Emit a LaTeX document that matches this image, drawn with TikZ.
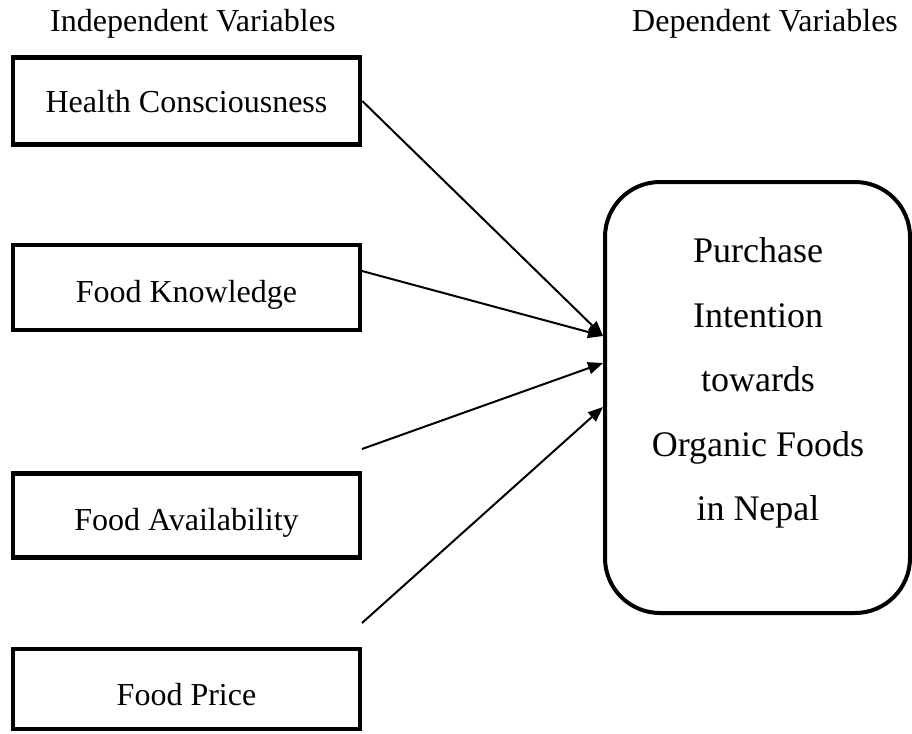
\documentclass[tikz,border=0pt]{standalone}
\usepackage{fontspec}
\setmainfont{Liberation Serif}
\usetikzlibrary{arrows.meta}
\begin{document}
\begin{tikzpicture}[x=1pt,y=-1pt,
  ibox/.style={draw=black, line width=4.5pt, rectangle, inner sep=0pt},
  lbl/.style={font=\fontsize{32}{38}\selectfont, inner sep=0pt, anchor=base},
  hdr/.style={font=\fontsize{32}{38}\selectfont, inner sep=0pt, anchor=base west},
  dbox/.style={draw=black, line width=4pt, rounded corners=55pt, inner sep=0pt},
  arr/.style={line width=2pt, -{Triangle[length=15pt,width=12pt]}}
]
\useasboundingbox (0,0) rectangle (912,733);
% headers
\node[hdr] (hind) at (50,32) {Independent Variables};
\node[hdr] (hdep) at (632,32) {Dependent Variables};
% independent boxes
\node[ibox, minimum width=347pt, minimum height=87pt] (hc) at (186.5,101) {};
\node[lbl] (hct) at (186.5,113) {Health Consciousness};
\node[ibox, minimum width=347pt, minimum height=85pt] (fk) at (186.5,287.5) {};
\node[lbl] (fkt) at (186.5,302) {Food Knowledge};
\node[ibox, minimum width=347pt, minimum height=84pt] (fa) at (186.5,515.5) {};
\node[lbl] (fat) at (186.5,530) {Food Availability};
\node[ibox, minimum width=347pt, minimum height=80pt] (fp) at (186.5,689) {};
\node[lbl] (fpt) at (186.5,705) {Food Price};
% dependent box
\node[dbox, minimum width=305pt, minimum height=431pt] (pi) at (757.5,397.5) {};
\node[font=\fontsize{36}{64.5}\selectfont, align=center, inner sep=0pt] (pit) at (758,383)
  {Purchase\\Intention\\towards\\Organic Foods\\in Nepal};
% connector end points
\coordinate (s2) at (362,271);
\coordinate (s3) at (362,449);
\coordinate (s4) at (362,623);
\coordinate (e1) at (603,336);
\coordinate (e3) at (603,363);
\coordinate (e4) at (603,407);
\draw[arr] (hc.east) -- (e1);
\draw[arr] (s2) -- (e1);
\draw[arr] (s3) -- (e3);
\draw[arr] (s4) -- (e4);
\end{tikzpicture}
\end{document}
